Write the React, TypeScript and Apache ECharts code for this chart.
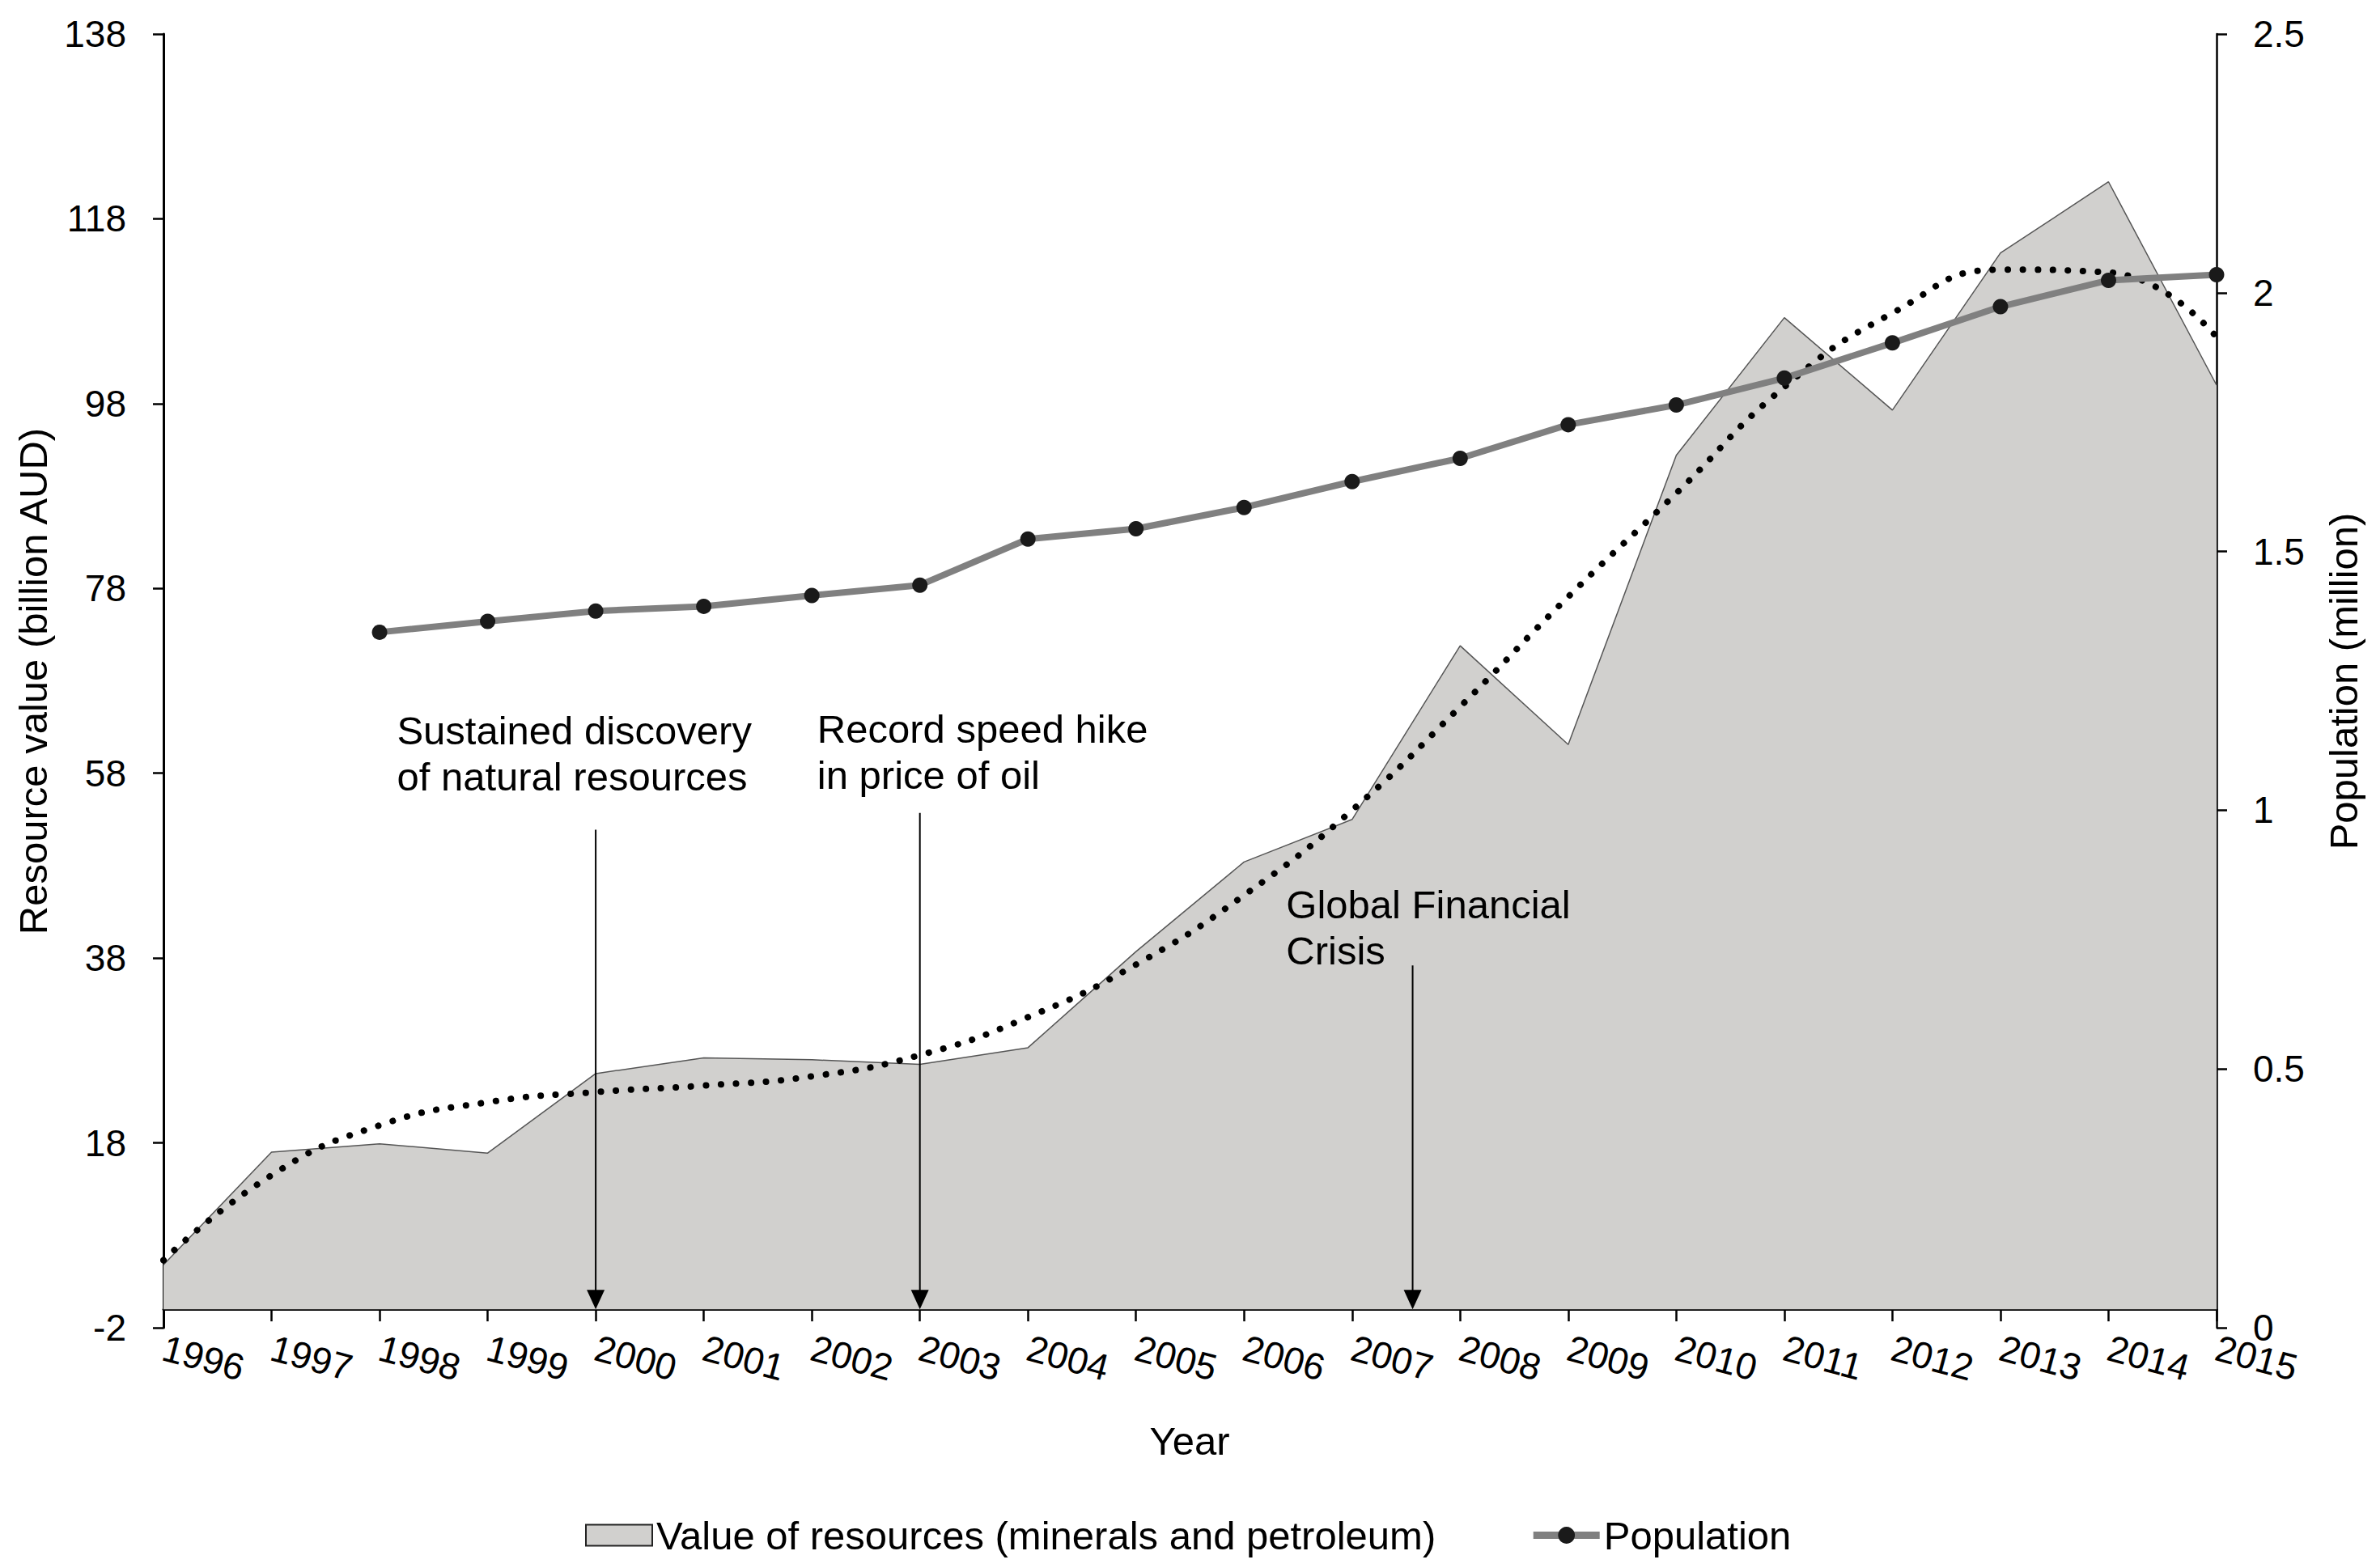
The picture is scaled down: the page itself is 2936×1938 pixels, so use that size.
import React, { useEffect, useRef } from "react";
import * as echarts from "echarts";

const FONT = '"Liberation Sans", Arial, sans-serif';

const years = [1996, 1997, 1998, 1999, 2000, 2001, 2002, 2003, 2004, 2005, 2006, 2007, 2008, 2009, 2010, 2011, 2012, 2013, 2014, 2015];
const resourceValue = [4.8, 17.0, 17.9, 16.9, 25.5, 27.2, 27.0, 26.5, 28.3, 38.7, 48.4, 53.0, 71.8, 61.1, 92.4, 107.3, 97.3, 114.3, 122.0, 100.0];
const trendValue = [5.3, 14.5, 19.9, 22.4, 23.5, 24.2, 25.2, 27.5, 31.6, 37.3, 44.8, 54.0, 65.2, 77.1, 88.3, 99.8, 107.8, 112.5, 112.2, 105.2];
const popYears = [1998, 1999, 2000, 2001, 2002, 2003, 2004, 2005, 2006, 2007, 2008, 2009, 2010, 2011, 2012, 2013, 2014, 2015];
const population = [1.344, 1.365, 1.385, 1.394, 1.415, 1.435, 1.524, 1.544, 1.585, 1.635, 1.68, 1.745, 1.783, 1.835, 1.903, 1.973, 2.024, 2.035];

const leftTicks = { min: -2, max: 138, interval: 20 };
const rightTicks = { min: 0, max: 2.5, interval: 0.5 };

const annotationTexts = ["Sustained discovery\nof natural resources", "Record speed hike\nin price of oil", "Global Financial\nCrisis"];
const annotationX = [1998.16, 2002.05, 2006.39];
const annotationY = [60.1, 60.3, 41.3];
const arrowX = [2000, 2003, 2007.56];
const arrowTop = [51.9, 53.7, 37.2];

const AREA_NAME = "Value of resources (minerals and petroleum)";
const POP_NAME = "Population";

export default function App() {
  const ref = useRef<HTMLDivElement>(null);
  useEffect(() => {
    document.body.style.margin = "0";
    const chart = echarts.init(ref.current!, null, { renderer: "svg" });
    const option: any = {
      animation: false,
      backgroundColor: "#ffffff",
      textStyle: { fontFamily: FONT, color: "#000" },
      grid: { left: 202, right: 197, top: 42, bottom: 297, containLabel: false },
      legend: {
        left: 718,
        top: 1868,
        itemWidth: 82,
        itemHeight: 26,
        itemGap: 116,
        textStyle: { fontSize: 49, fontFamily: FONT, color: "#000" },
        data: [
          { name: AREA_NAME, icon: "rect", itemStyle: { color: "#d1d0ce", borderColor: "#222", borderWidth: 2 } },
          { name: POP_NAME, lineStyle: { color: "#808080", width: 9 }, itemStyle: { color: "#1a1a1a" } },
        ],
      },
      xAxis: {
        type: "value",
        min: 1996,
        max: 2015,
        interval: 1,
        splitLine: { show: false },
        axisLine: { show: true, onZero: true, onZeroAxisIndex: 0, lineStyle: { color: "#000", width: 3 } },
        axisTick: { show: true, length: 15, lineStyle: { color: "#000", width: 2.5 } },
        axisLabel: {
          rotate: -15,
          margin: 24,
          fontSize: 46,
          fontFamily: FONT,
          color: "#000",
          formatter: (v: number) => String(v),
        },
      },
      yAxis: [
        {
          type: "value",
          position: "left",
          ...leftTicks,
          splitLine: { show: false },
          axisLine: { show: true, onZero: false, lineStyle: { color: "#000", width: 3 } },
          axisTick: { show: true, length: 13, lineStyle: { color: "#000", width: 2.5 } },
          axisLabel: { fontSize: 46, margin: 46, color: "#000", fontFamily: FONT },
        },
        {
          type: "value",
          position: "right",
          ...rightTicks,
          splitLine: { show: false },
          axisLine: { show: true, onZero: false, lineStyle: { color: "#000", width: 2.5 } },
          axisTick: { show: true, length: 13, lineStyle: { color: "#000", width: 2.5 } },
          axisLabel: { fontSize: 46, margin: 45, color: "#000", fontFamily: FONT },
        },
      ],
      series: [
        {
          name: AREA_NAME,
          type: "line",
          yAxisIndex: 0,
          data: years.map((y, i) => [y, resourceValue[i]]),
          symbol: "none",
          lineStyle: { color: "#555", width: 1.5 },
          itemStyle: { color: "#d1d0ce" },
          areaStyle: { color: "#d1d0ce", opacity: 1 },
          z: 1,
        },
        {
          name: "Trend",
          type: "line",
          yAxisIndex: 0,
          data: years.map((y, i) => [y, trendValue[i]]),
          symbol: "none",
          smooth: true,
          lineStyle: { color: "#000", width: 8, type: [0.1, 18.5], cap: "round" },
          z: 3,
        },
        {
          name: POP_NAME,
          type: "line",
          yAxisIndex: 1,
          data: popYears.map((y, i) => [y, population[i]]),
          symbol: "circle",
          symbolSize: 19,
          lineStyle: { color: "#808080", width: 8 },
          itemStyle: { color: "#1a1a1a" },
          z: 4,
        },
      ],
    };
    chart.setOption(option);

    const toPx = (x: number, y: number) => chart.convertToPixel({ xAxisIndex: 0, yAxisIndex: 0 }, [x, y]) as number[];
    const graphics: any[] = [];
    annotationTexts.forEach((t, i) => {
      const p = toPx(annotationX[i], annotationY[i]);
      graphics.push({
        type: "text",
        x: p[0],
        y: p[1],
        z: 10,
        style: { text: t, fontSize: 49, fontFamily: FONT, lineHeight: 57, fill: "#000", align: "left", verticalAlign: "middle" },
      });
    });
    arrowX.forEach((ax, i) => {
      const top = toPx(ax, arrowTop[i]);
      const tip = toPx(ax, 0);
      const headH = 24;
      const headW = 11;
      graphics.push({
        type: "line",
        z: 10,
        shape: { x1: top[0], y1: top[1], x2: tip[0], y2: tip[1] - headH + 2 },
        style: { stroke: "#000", lineWidth: 2 },
      });
      graphics.push({
        type: "polygon",
        z: 10,
        shape: { points: [[tip[0] - headW, tip[1] - headH], [tip[0] + headW, tip[1] - headH], [tip[0], tip[1]]] },
        style: { fill: "#000" },
      });
    });
    graphics.push({
      type: "text",
      x: 41,
      y: 842,
      rotation: Math.PI / 2,
      style: { text: "Resource value (billion AUD)", fontSize: 49, fontFamily: FONT, fill: "#000", align: "center", verticalAlign: "middle" },
    });
    graphics.push({
      type: "text",
      x: 2896,
      y: 842,
      rotation: Math.PI / 2,
      style: { text: "Population (million)", fontSize: 49, fontFamily: FONT, fill: "#000", align: "center", verticalAlign: "middle" },
    });
    graphics.push({
      type: "text",
      x: 1470,
      y: 1781,
      style: { text: "Year", fontSize: 49, fontFamily: FONT, fill: "#000", align: "center", verticalAlign: "middle" },
    });
    chart.setOption({ graphic: graphics });

    return () => chart.dispose();
  }, []);
  return <div ref={ref} style={{ position: "fixed", left: 0, top: 0, width: 2936, height: 1938 }} />;
}
